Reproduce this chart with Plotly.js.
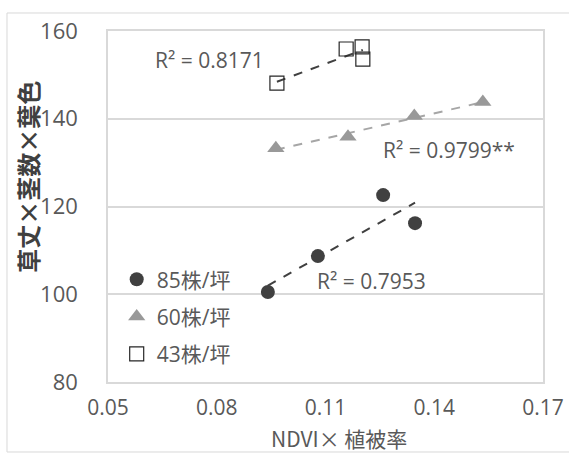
<!DOCTYPE html>
<html><head><meta charset="utf-8">
<script src="https://cdn.plot.ly/plotly-3.0.1.min.js"></script>
<style>html,body{margin:0;padding:0;background:#fff}</style>
</head><body><div id="chart" style="width:569px;height:455px"></div>
<script>
const seriesNames = ['85株/坪', '60株/坪', '43株/坪'];
const x85 = [0.0941, 0.1079, 0.1259, 0.1347];
const y85 = [100.5, 108.7, 122.6, 116.2];
const x60 = [0.0963, 0.1162, 0.1345, 0.1534];
const y60 = [133.3, 135.9, 140.6, 143.8];
const x43 = [0.0966, 0.1157, 0.1201, 0.1203];
const y43 = [148.1, 155.9, 156.4, 153.6];
const r2Labels = ['R² = 0.7953', 'R² = 0.9799**', 'R² = 0.8171'];
const xTicks = [0.05, 0.08, 0.11, 0.14, 0.17];
const yTicks = [80, 100, 120, 140, 160];
const xTitle = 'NDVI× 植被率';
const yTitle = '草丈×茎数×葉色';

function fit(xs, ys) {
  const n = xs.length;
  const mx = xs.reduce((a,b)=>a+b,0)/n, my = ys.reduce((a,b)=>a+b,0)/n;
  let sxy=0, sxx=0;
  for (let i=0;i<n;i++){ sxy += (xs[i]-mx)*(ys[i]-my); sxx += (xs[i]-mx)**2; }
  const b = sxy/sxx, a = my - b*mx;
  const x0 = Math.min(...xs), x1 = Math.max(...xs);
  return {x:[x0,x1], y:[a+b*x0, a+b*x1]};
}

const font = "'Open Sans', 'Noto Sans CJK JP', sans-serif";
const cjk = "'Noto Sans CJK JP', sans-serif";
const grey = '#595959';
const f85 = fit(x85, y85), f60 = fit(x60, y60), f43 = fit(x43, y43);

const data = [
  {x:f85.x, y:f85.y, mode:'lines', line:{color:'#404040', dash:'dash', width:2}, showlegend:false, hoverinfo:'skip'},
  {x:f60.x, y:f60.y, mode:'lines', line:{color:'#a6a6a6', dash:'dash', width:2}, showlegend:false, hoverinfo:'skip'},
  {x:f43.x, y:f43.y, mode:'lines', line:{color:'#404040', dash:'dash', width:2}, showlegend:false, hoverinfo:'skip'},
  {x:x85, y:y85, name:seriesNames[0], legendgroup:'a', mode:'markers', marker:{symbol:'circle', size:14, color:'#404040'}},
  {x:x60, y:y60, name:seriesNames[1], legendgroup:'b', mode:'markers', marker:{symbol:'triangle-up', size:15, color:'#999999'}},
  {x:x43, y:y43, name:seriesNames[2], legendgroup:'c', mode:'markers', marker:{symbol:'square-open', size:14, color:'#262626', line:{width:1.2}}}
];

const layout = {
  width:569, height:455,
  margin:{l:108, r:26, t:31, b:73},
  paper_bgcolor:'#fff', plot_bgcolor:'#fff',
  font:{family:font, color:grey, size:21},
  xaxis:{range:[0.05,0.17], tickvals:xTicks, ticktext:xTicks.map(v=>v.toFixed(2)),
    showgrid:false, zeroline:false, showline:true, mirror:true, linecolor:'#d9d9d9', linewidth:1.5,
    ticks:'', tickfont:{size:21, color:grey}, ticklabelstandoff:6},
  yaxis:{range:[80,160], tickvals:yTicks, showgrid:true, gridcolor:'#d9d9d9', gridwidth:1.5,
    zeroline:false, showline:true, mirror:true, linecolor:'#d9d9d9', linewidth:1.5,
    ticks:'', tickfont:{size:22, color:grey}, ticklabelstandoff:24},
  showlegend:true,
  legend:{x:0.02, y:0.35, xanchor:'left', yanchor:'top', bgcolor:'rgba(0,0,0,0)',
    font:{size:21, color:grey, family:font}, tracegroupgap:7, itemwidth:30, traceorder:'grouped'},
  annotations:[
    {xref:'paper', yref:'paper', x:0.53, y:-0.16, yanchor:'middle', xanchor:'center', text:xTitle, showarrow:false, font:{size:21, color:grey, family:cjk}},
    {xref:'paper', yref:'paper', x:-0.184, y:0.585, xanchor:'center', yanchor:'middle', textangle:-90, text:'<b>'+yTitle+'</b>', showarrow:false, font:{size:24, color:'#404040', family:cjk}},
    {xref:'x', yref:'y', x:0.1228, y:103.0, xanchor:'center', yanchor:'middle', text:r2Labels[0], showarrow:false, font:{size:21, color:grey}},
    {xref:'x', yref:'y', x:0.1442, y:132.9, xanchor:'center', yanchor:'middle', text:r2Labels[1], showarrow:false, font:{size:21, color:grey}},
    {xref:'x', yref:'y', x:0.0779, y:153.4, xanchor:'center', yanchor:'middle', text:r2Labels[2], showarrow:false, font:{size:21, color:grey}}
  ],
  shapes:[
    {type:'rect', xref:'paper', yref:'paper', x0:-0.2322, x1:1.08, y0:-0.1994, y1:1.0513, line:{color:'#d9d9d9', width:1}}
  ]
};
Plotly.newPlot('chart', data, layout, {displayModeBar:false});
</script></body></html>
